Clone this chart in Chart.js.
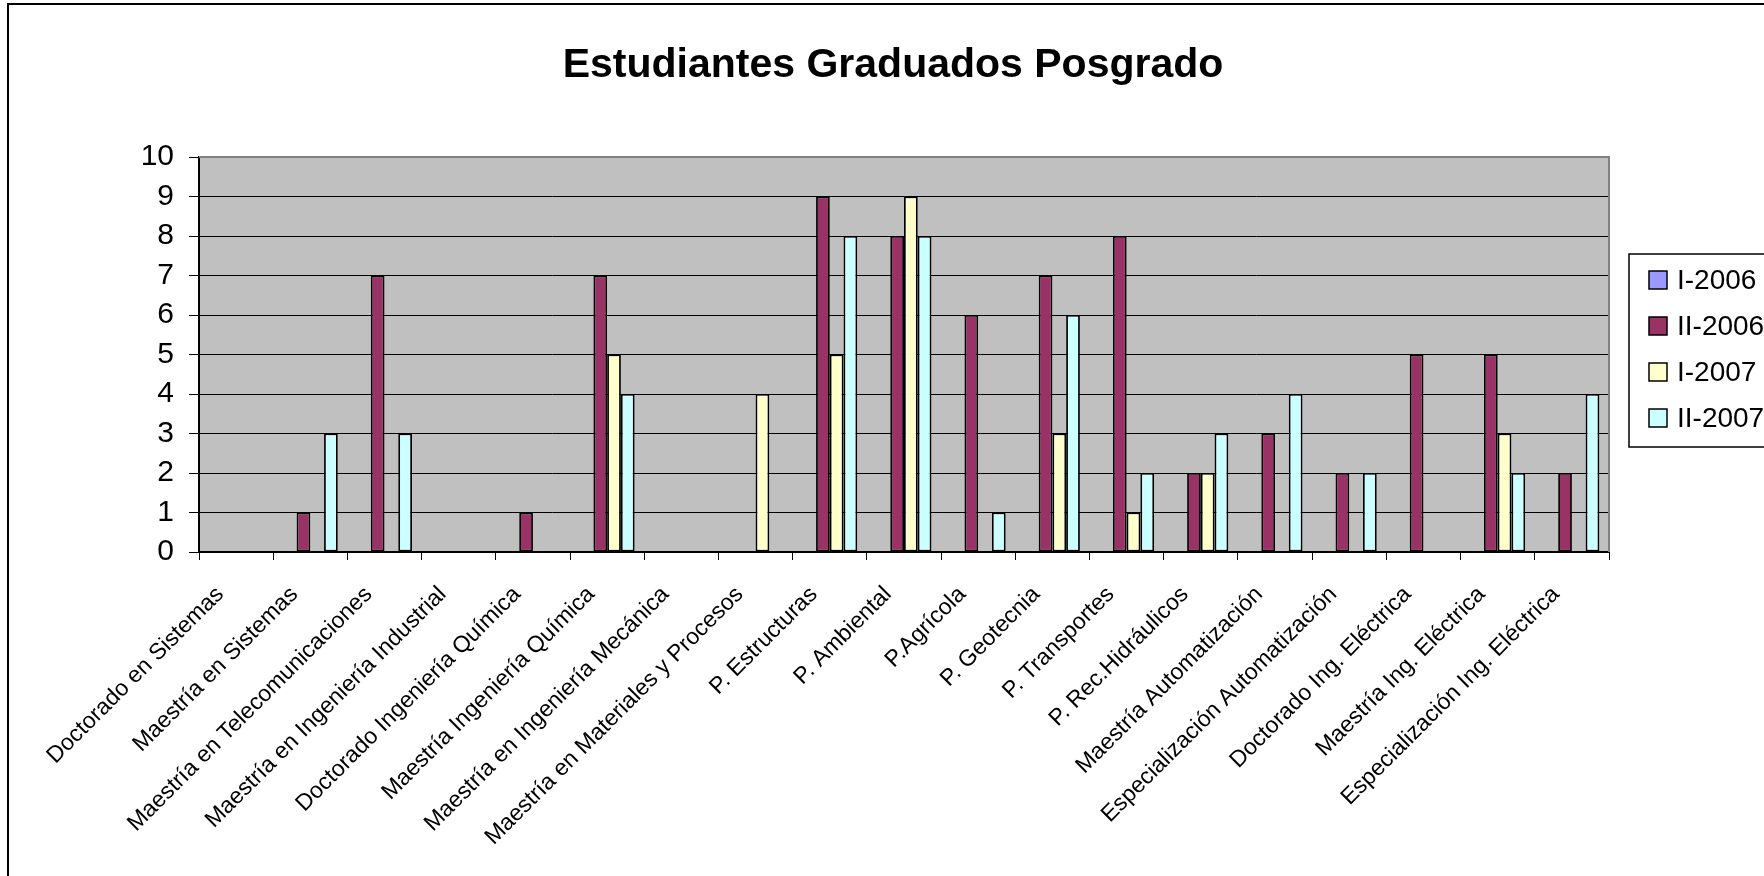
<!DOCTYPE html>
<html lang="es">
<head>
<meta charset="utf-8">
<title>Estudiantes Graduados Posgrado</title>
<script src="https://cdn.jsdelivr.net/npm/chart.js@4.4.1/dist/chart.umd.min.js"></script>
<style>
    html, body { margin: 0; padding: 0; background: #ffffff; overflow: hidden; }
    canvas { display: block; }
</style>
</head>
<body>
<canvas id="chart-posgrado" width="1764" height="876"></canvas>
<script>
// Programas (categorías del eje X)
const PROGRAMAS = [
    'Doctorado en Sistemas',
    'Maestría en Sistemas',
    'Maestría en Telecomunicaciones',
    'Maestría en Ingeniería Industrial',
    'Doctorado Ingeniería Química',
    'Maestría Ingeniería Química',
    'Maestría en Ingeniería Mecánica',
    'Maestría en Materiales y Procesos',
    'P. Estructuras',
    'P. Ambiental',
    'P.Agrícola',
    'P. Geotecnia',
    'P. Transportes',
    'P. Rec.Hidráulicos',
    'Maestría Automatización',
    'Especialización Automatización',
    'Doctorado Ing. Eléctrica',
    'Maestría Ing. Eléctrica',
    'Especialización Ing. Eléctrica'
];

// Graduados por semestre
const I_2006  = [0, 0, 0, 0, 0, 0, 0, 0, 0, 0, 0, 0, 0, 0, 0, 0, 0, 0, 0];
const II_2006 = [0, 1, 7, 0, 1, 7, 0, 0, 9, 8, 6, 7, 8, 2, 3, 2, 5, 5, 2];
const I_2007  = [0, 0, 0, 0, 0, 5, 0, 4, 5, 9, 0, 3, 1, 2, 0, 0, 0, 3, 0];
const II_2007 = [0, 3, 3, 0, 0, 4, 0, 0, 8, 8, 1, 6, 2, 3, 4, 2, 0, 2, 4];

const SEMESTRES = ['I-2006', 'II-2006', 'I-2007', 'II-2007'];
const Y_TICKS = [0, 1, 2, 3, 4, 5, 6, 7, 8, 9, 10];

const TITULO = 'Estudiantes Graduados Posgrado';

// Colores estilo Excel clásico
const COLORES = ['#9999ff', '#993366', '#ffffcc', '#ccffff'];
const FONDO_PLOT = '#c0c0c0';
const FUENTE = "'Liberation Sans', Arial, sans-serif";

// Marco, fondo gris, título y leyenda con recuadro
const decoracion = {
    id: 'decoracion',
    beforeDraw(chart) {
        const { ctx, chartArea: a } = chart;
        ctx.save();
        ctx.fillStyle = '#ffffff';
        ctx.fillRect(0, 0, chart.width, chart.height);
        // marco exterior (solo se ven los lados izquierdo y superior)
        ctx.strokeStyle = '#000000';
        ctx.lineWidth = 2;
        ctx.beginPath();
        ctx.moveTo(8, chart.height + 5);
        ctx.lineTo(8, 4);
        ctx.lineTo(chart.width + 5, 4);
        ctx.stroke();
        ctx.fillStyle = FONDO_PLOT;
        ctx.fillRect(a.left, a.top, a.right - a.left, a.bottom - a.top);
        ctx.restore();
    },
    afterDraw(chart) {
        const { ctx, chartArea: a } = chart;
        ctx.save();
        // borde gris superior y derecho del área de trazado
        ctx.strokeStyle = '#808080';
        ctx.lineWidth = 2;
        ctx.beginPath();
        ctx.moveTo(a.left, a.top);
        ctx.lineTo(a.right, a.top);
        ctx.lineTo(a.right, a.bottom);
        ctx.stroke();

        // título
        ctx.fillStyle = '#000000';
        ctx.font = 'bold 41px ' + FUENTE;
        ctx.textAlign = 'center';
        ctx.textBaseline = 'middle';
        ctx.fillText(TITULO, 893, 66);

        // leyenda
        const lx = 1629, ly = 254, lh = 193;
        ctx.fillStyle = '#ffffff';
        ctx.fillRect(lx, ly, 200, lh);
        ctx.strokeStyle = '#000000';
        ctx.lineWidth = 1.5;
        ctx.strokeRect(lx, ly, 200, lh);
        ctx.font = '28px ' + FUENTE;
        ctx.textAlign = 'left';
        chart.data.datasets.forEach((ds, i) => {
            const cy = 280 + i * 46;
            ctx.fillStyle = ds.backgroundColor;
            ctx.fillRect(1649, cy - 9, 18, 18);
            ctx.strokeRect(1649, cy - 9, 18, 18);
            ctx.fillStyle = '#000000';
            ctx.fillText(ds.label, 1677, cy + 1);
        });
        ctx.restore();
    }
};

const series = [I_2006, II_2006, I_2007, II_2007];

new Chart(document.getElementById('chart-posgrado'), {
    type: 'bar',
    data: {
        labels: PROGRAMAS,
        datasets: series.map((data, i) => ({
            label: SEMESTRES[i],
            data,
            backgroundColor: COLORES[i],
            borderColor: '#000000',
            borderWidth: 1.8,
            borderSkipped: false,
            categoryPercentage: 0.74,
            barPercentage: 1.0
        }))
    },
    options: {
        responsive: false,
        animation: false,
        devicePixelRatio: 1,
        layout: { padding: { left: 0, top: 157, right: 155, bottom: 0 } },
        plugins: {
            legend: { display: false },
            title: { display: false },
            tooltip: { enabled: false }
        },
        scales: {
            y: {
                min: 0,
                max: 10,
                afterFit(scale) { scale.width = 199; },
                afterBuildTicks(scale) { scale.ticks = Y_TICKS.map(v => ({ value: v })); },
                ticks: {
                    color: '#000000',
                    font: { family: FUENTE, size: 30 },
                    padding: 15
                },
                grid: {
                    color: '#000000',
                    lineWidth: 1,
                    tickLength: 10,
                    drawTicks: true
                },
                border: { color: '#000000', width: 2 }
            },
            x: {
                afterFit(scale) { scale.height = 876 - 552; },
                ticks: {
                    color: '#000000',
                    font: { family: FUENTE, size: 23 },
                    autoSkip: false,
                    maxRotation: 45,
                    minRotation: 45,
                    padding: 21,
                    labelOffset: -16
                },
                grid: {
                    offset: true,
                    drawOnChartArea: false,
                    color: '#000000',
                    tickLength: 8
                },
                border: { color: '#000000', width: 2 }
            }
        }
    },
    plugins: [decoracion]
});
</script>
</body>
</html>
